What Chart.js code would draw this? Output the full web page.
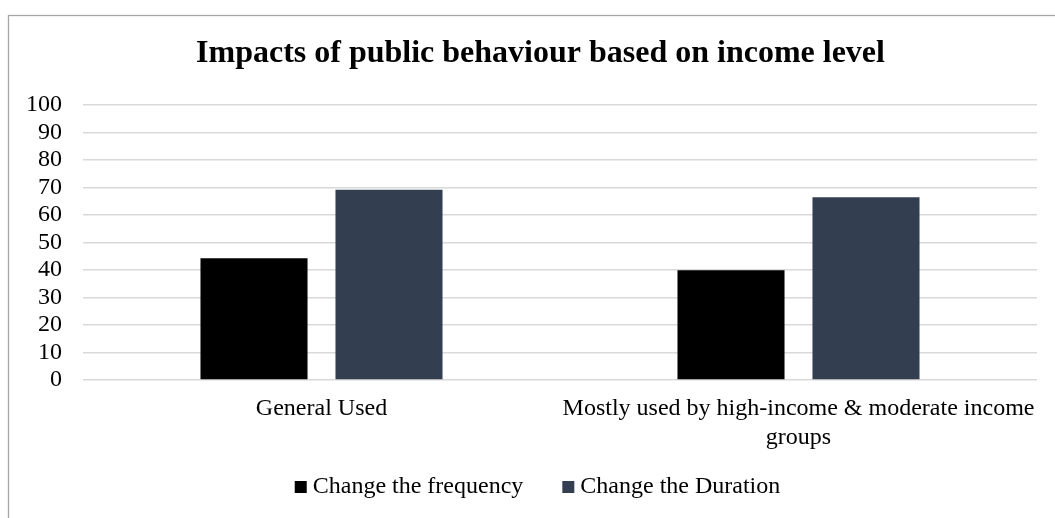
<!DOCTYPE html>
<html>
<head>
<meta charset="utf-8">
<script src="https://cdn.jsdelivr.net/npm/chart.js@4/dist/chart.umd.min.js"></script>
<style>
  html, body { margin: 0; padding: 0; background: #ffffff; overflow: hidden; }
  #wrap { width: 1055px; height: 518px; position: relative; }
</style>
</head>
<body>
<div id="wrap"><canvas id="c" width="1055" height="518"></canvas></div>
<script>
const titleText = 'Impacts of public behaviour based on income level';
const categories = [
  'General Used',
  ['Mostly used by high-income & moderate income', 'groups']
];
const seriesNames = ['Change the frequency', 'Change the Duration'];
const frequencyValues = [44.3, 39.9];
const durationValues = [69.2, 66.5];
const seriesColors = ['#000000', '#333f50'];
const yMin = 0, yMax = 100, yStep = 10;

const FONT = '"Liberation Serif", "Times New Roman", Times, serif';

const frame = {
  id: 'frame',
  beforeDraw(chart) {
    const ctx = chart.ctx;
    ctx.save();
    ctx.fillStyle = '#ffffff';
    ctx.fillRect(0, 0, chart.width, chart.height);
    ctx.strokeStyle = '#a6a6a6';
    ctx.lineWidth = 1.3;
    ctx.strokeRect(8.5, 15.5, chart.width + 40, chart.height + 40);
    ctx.restore();
  }
};

new Chart(document.getElementById('c'), {
  type: 'bar',
  data: {
    labels: categories,
    datasets: [
      { label: seriesNames[0], data: frequencyValues, backgroundColor: seriesColors[0], borderWidth: 0 },
      { label: seriesNames[1], data: durationValues, backgroundColor: seriesColors[1], borderWidth: 0 }
    ]
  },
  options: {
    responsive: false,
    animation: false,
    devicePixelRatio: 1,
    categoryPercentage: 0.566,
    barPercentage: 0.793,
    layout: { padding: { left: 44, right: 18, top: 0, bottom: 9 } },
    plugins: {
      title: {
        display: true,
        text: titleText,
        color: '#000000',
        font: { family: FONT, size: 32, weight: 'bold' },
        padding: { top: 35, bottom: 31.6 }
      },
      legend: {
        display: true,
        position: 'bottom',
        labels: {
          usePointStyle: true,
          pointStyle: 'rect',
          boxWidth: 0.01,
          boxHeight: 12,
          padding: 45,
          color: '#000000',
          font: { family: FONT, size: 24 }
        }
      },
      tooltip: { enabled: false }
    },
    scales: {
      x: {
        grid: { display: false, drawTicks: false },
        border: { display: false },
        ticks: {
          color: '#000000',
          font: { family: FONT, size: 24, lineHeight: 1.2 },
          mirror: true,
          padding: -43.4,
          autoSkip: false,
          maxRotation: 0,
          minRotation: 0
        },
        afterFit(scale) { scale.height = 50; }
      },
      y: {
        min: yMin,
        max: yMax,
        grid: { color: '#d9d9d9', lineWidth: 1.6, drawTicks: false },
        border: { display: false },
        ticks: {
          stepSize: yStep,
          autoSkip: false,
          color: '#000000',
          font: { family: FONT, size: 24 },
          mirror: true,
          crossAlign: 'far',
          padding: -57
        },
        afterFit(scale) { scale.width = 39; }
      }
    }
  },
  plugins: [frame]
});
</script>
</body>
</html>
